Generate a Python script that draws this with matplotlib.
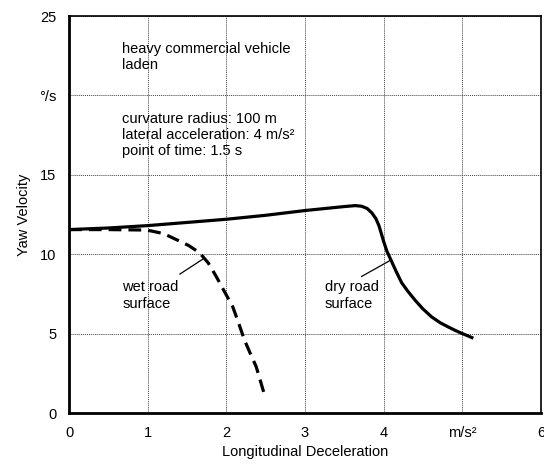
import matplotlib
matplotlib.use("Agg")
import matplotlib.pyplot as plt

plt.rcParams["font.family"] = ["Liberation Sans", "DejaVu Sans"]

# dry road surface (solid)
dry_x = [0.0, 0.5, 1.0, 1.5, 2.0, 2.5, 3.0, 3.3, 3.5, 3.64, 3.72, 3.79, 3.85, 3.9,
         3.94, 3.97, 4.0, 4.04, 4.09, 4.16, 4.23, 4.31, 4.4, 4.5, 4.61, 4.72,
         4.82, 4.91, 4.99, 5.07, 5.14]
dry_y = [11.55, 11.65, 11.8, 12.0, 12.2, 12.45, 12.75, 12.9, 13.0, 13.06, 13.02,
         12.88, 12.6, 12.25, 11.8, 11.3, 10.8, 10.2, 9.66, 8.9, 8.19, 7.65, 7.1,
         6.55, 6.05, 5.68, 5.42, 5.2, 5.02, 4.86, 4.71]

# wet road surface (dashed)
wet_x = [0.0, 0.5, 0.99, 1.2, 1.36, 1.52, 1.66, 1.77, 1.87, 1.97, 2.08, 2.15,
         2.23, 2.3, 2.38, 2.48]
wet_y = [11.55, 11.55, 11.52, 11.3, 10.93, 10.55, 10.09, 9.45, 8.61, 7.7, 6.71,
         5.75, 4.6, 3.8, 2.91, 1.23]

x_ticks = [0, 1, 2, 3, 4, 5, 6]
x_labels = ["0", "1", "2", "3", "4", "m/s²", "6"]
y_ticks = [0, 5, 10, 15, 20, 25]
y_labels = ["0", "5", "10", "15", "°/s", "25"]

fig = plt.figure(figsize=(5.44, 4.65), dpi=100)
ax = fig.add_axes([69 / 544, 1 - 413 / 465, 472 / 544, 397 / 465])

ax.plot(dry_x, dry_y, color="black", lw=2.3, solid_capstyle="butt",
        solid_joinstyle="round")
ax.plot(wet_x, wet_y, color="black", lw=2.3, dashes=(4, 2.2))

ax.set_xlim(0, 6)
ax.set_ylim(0, 25)
ax.set_xticks(x_ticks)
ax.set_xticklabels(x_labels)
ax.set_yticks(y_ticks)
ax.set_yticklabels(y_labels)
ax.tick_params(length=0, labelsize=10.5, pad=9)
ax.grid(True, color="#444444", lw=0.7, linestyle=(0, (1, 1)))
ax.set_axisbelow(True)

for side in ("left", "bottom"):
    ax.spines[side].set_linewidth(2.0)
for side in ("top", "right"):
    ax.spines[side].set_linewidth(1.2)

ax.set_xlabel("Longitudinal Deceleration", fontsize=10.5, labelpad=4)
ax.set_ylabel("Yaw Velocity", fontsize=10.5, labelpad=6)

ax.text(0.68, 22.4, "heavy commercial vehicle\nladen", fontsize=10.5,
        va="center", linespacing=1.2)
ax.text(0.68, 17.5, "curvature radius: 100 m\nlateral acceleration: 4 m/s²\n"
        "point of time: 1.5 s", fontsize=10.5, va="center", linespacing=1.2)

ax.text(0.68, 7.4, "wet road\nsurface", fontsize=10.5, va="center", linespacing=1.2)
ax.plot([1.41, 1.72], [8.75, 9.75], color="black", lw=0.9)
ax.text(3.25, 7.4, "dry road\nsurface", fontsize=10.5, va="center", linespacing=1.2)
ax.plot([3.72, 4.08], [8.6, 9.6], color="black", lw=0.9)

fig.savefig("out.png", dpi=100)
